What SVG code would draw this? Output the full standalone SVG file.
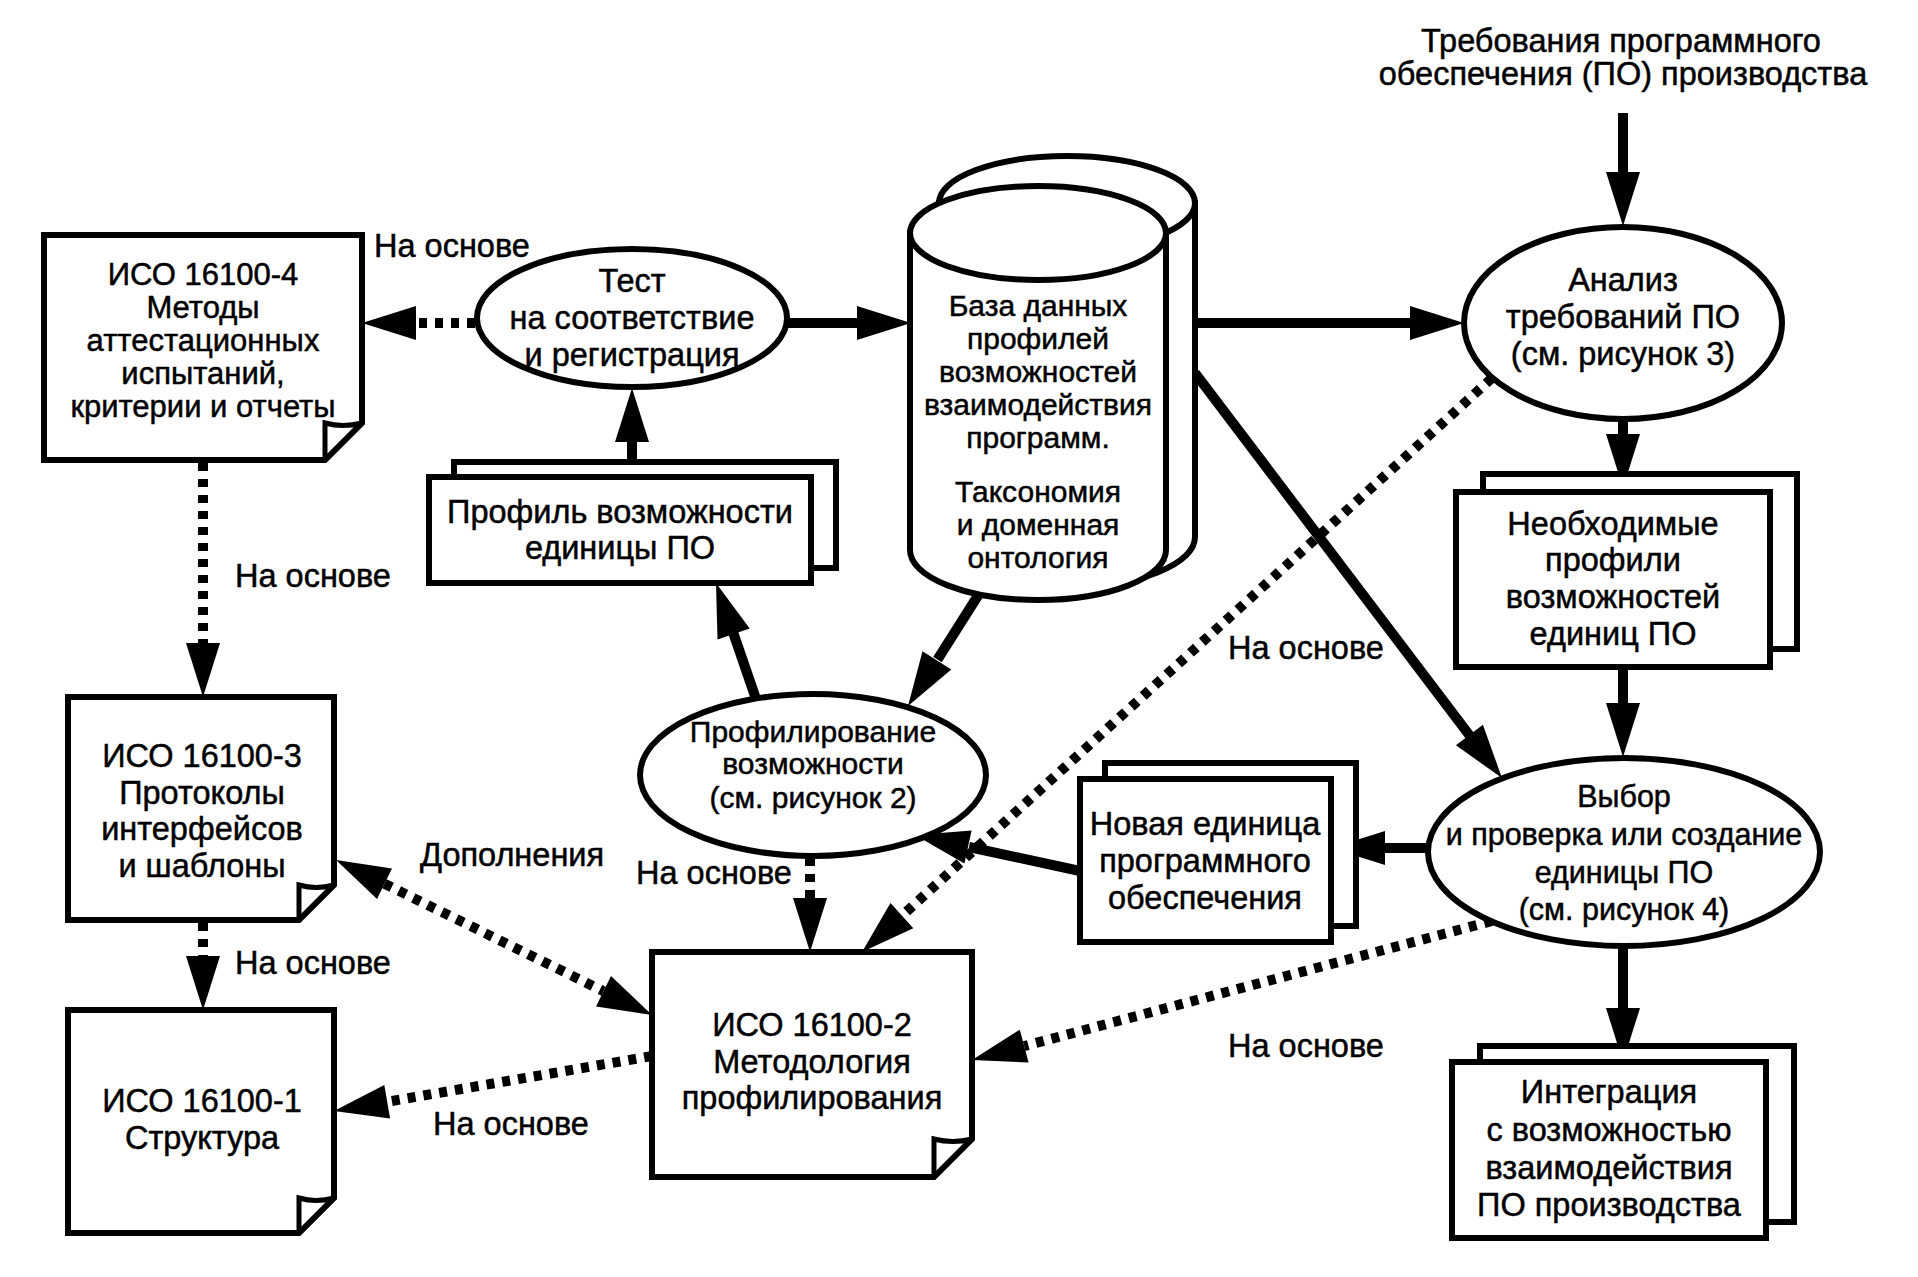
<svg xmlns="http://www.w3.org/2000/svg" width="1918" height="1277" viewBox="0 0 1918 1277">
<style>
text{font-family:"Liberation Sans",Arial,sans-serif;font-size:32.5px;fill:#000;stroke:#000;stroke-width:0.5;text-anchor:middle}
.lbl{text-anchor:start}
.n30{font-size:30px}
.n31{font-size:30.5px}
.iso4{font-size:31px}
.shape{fill:#fff;stroke:#000;stroke-width:6}
.fold{fill:none;stroke:#000;stroke-width:5}
.solid{fill:none;stroke:#000;stroke-width:10}
.dot{fill:none;stroke:#000;stroke-width:10;stroke-dasharray:8 8}
.head{fill:#000;stroke:none}
</style>
<rect width="1918" height="1277" fill="#fff"/>

<g id="connectors">
  <line class="dot" x1="475" y1="323" x2="416" y2="323"/>
  <polygon class="head" points="362,323 416,306 416,340"/>
  <line class="solid" x1="788" y1="323" x2="858" y2="323"/>
  <polygon class="head" points="911,323 857,306 857,340"/>
  <line class="solid" x1="1195" y1="323" x2="1411" y2="323"/>
  <polygon class="head" points="1464,323 1410,306 1410,340"/>
  <line class="solid" x1="1623" y1="113" x2="1623" y2="173"/>
  <polygon class="head" points="1623,226 1606,172 1640,172"/>
  <line class="solid" x1="1623" y1="418" x2="1623" y2="435"/>
  <polygon class="head" points="1623,488 1606,434 1640,434"/>
  <line class="solid" x1="1623" y1="667" x2="1623" y2="704"/>
  <polygon class="head" points="1623,757 1606,703 1640,703"/>
  <line class="solid" x1="1623" y1="944" x2="1623" y2="1009"/>
  <polygon class="head" points="1623,1062 1606,1008 1640,1008"/>
  <line class="solid" x1="1429" y1="848" x2="1384" y2="848"/>
  <polygon class="head" points="1331,848 1385,831 1385,865"/>
  <line class="solid" x1="1080" y1="871" x2="969" y2="847"/>
  <polygon class="head" points="915,835 971.6,830.4 964.4,863.6"/>
  <line class="solid" x1="979" y1="594" x2="937.5" y2="659.5"/>
  <polygon class="head" points="908,706 951.3,669.5 922.5,651.3"/>
  <line class="solid" x1="756" y1="699" x2="733.3" y2="633"/>
  <polygon class="head" points="716,583 749.7,628.5 717.5,639.5"/>
  <line class="solid" x1="632" y1="477" x2="632" y2="441"/>
  <polygon class="head" points="632,388 615,442 649,442"/>
  <line class="solid" x1="1195" y1="373" x2="1470" y2="736"/>
  <polygon class="head" points="1502,778 1482.9,724.7 1455.9,745.3"/>
  <line class="dot" x1="1492" y1="378" x2="902" y2="915.7"/>
  <polygon class="head" points="862,952 913.3,928.3 890.5,903.1"/>
  <line class="dot" x1="1492" y1="921" x2="1024.2" y2="1046.1"/>
  <polygon class="head" points="972,1060 1028.6,1062.5 1019.8,1029.7"/>
  <line class="dot" x1="652" y1="1056" x2="387.2" y2="1101.8"/>
  <polygon class="head" points="334,1111 390.1,1118.5 384.3,1085.1"/>
  <line class="dot" x1="384.5" y1="883.8" x2="603.5" y2="991.2"/>
  <polygon class="head" points="652,1015 596,1006.5 611,975.9"/>
  <polygon class="head" points="336,860 392,868.5 377,899.1"/>
  <line class="dot" x1="203" y1="463" x2="203" y2="643"/>
  <polygon class="head" points="203,697 186,643 220,643"/>
  <line class="dot" x1="203" y1="923" x2="203" y2="956"/>
  <polygon class="head" points="203,1010 186,956 220,956"/>
  <line class="dot" x1="810" y1="858" x2="810" y2="898"/>
  <polygon class="head" points="810,952 793,898 827,898"/>

  <text class="lbl" x="374" y="257">На основе</text>
  <text class="lbl" x="235" y="587">На основе</text>
  <text class="lbl" x="235" y="974">На основе</text>
  <text class="lbl" x="420" y="866">Дополнения</text>
  <text class="lbl" x="433" y="1135">На основе</text>
  <text class="lbl" x="636" y="884">На основе</text>
  <text class="lbl" x="1228" y="659">На основе</text>
  <text class="lbl" x="1228" y="1057">На основе</text>
</g>

<g id="requirements">
  <text x="1621" y="52">Требования программного</text>
  <text x="1623" y="85">обеспечения (ПО) производства</text>
</g>

<g id="iso4">
  <path class="shape" d="M44,235 H362 V423 L325,460 H44 Z"/>
  <path class="fold" d="M325,460 V423 Q343,428 362,423"/>
  <text class="iso4" x="203" y="285">ИСО 16100-4</text>
  <text class="iso4" x="203" y="318">Методы</text>
  <text class="iso4" x="203" y="351">аттестационных</text>
  <text class="iso4" x="203" y="384">испытаний,</text>
  <text class="iso4" x="203" y="417">критерии и отчеты</text>
</g>

<g id="test">
  <ellipse class="shape" cx="632" cy="318" rx="155" ry="69"/>
  <text x="632" y="292">Тест</text>
  <text x="632" y="329">на соответствие</text>
  <text x="632" y="366">и регистрация</text>
</g>

<g id="database">
  <path class="shape" d="M939,203 V537 A128,50 0 0 0 1195,537 V203 Z"/>
  <ellipse class="shape" cx="1067" cy="203" rx="128" ry="47"/>
  <path class="shape" d="M910,233 V550 A128,50 0 0 0 1166,550 V233 Z"/>
  <ellipse class="shape" cx="1038" cy="233" rx="128" ry="47"/>
  <text class="n30" x="1038" y="316">База данных</text>
  <text class="n30" x="1038" y="349">профилей</text>
  <text class="n30" x="1038" y="382">возможностей</text>
  <text class="n30" x="1038" y="415">взаимодействия</text>
  <text class="n30" x="1038" y="448">программ.</text>
  <text class="n30" x="1038" y="502">Таксономия</text>
  <text class="n30" x="1038" y="535">и доменная</text>
  <text class="n30" x="1038" y="568">онтология</text>
</g>

<g id="analysis">
  <ellipse class="shape" cx="1623" cy="323" rx="159" ry="96"/>
  <text x="1623" y="291">Анализ</text>
  <text x="1623" y="328">требований ПО</text>
  <text x="1623" y="365">(см. рисунок 3)</text>
</g>

<g id="profile">
  <rect class="shape" x="454" y="462" width="382" height="106"/>
  <rect class="shape" x="429" y="477" width="382" height="106"/>
  <text x="620" y="523">Профиль возможности</text>
  <text x="620" y="559">единицы ПО</text>
</g>

<g id="needed">
  <rect class="shape" x="1483" y="474" width="314" height="175"/>
  <rect class="shape" x="1456" y="492" width="314" height="175"/>
  <text x="1613" y="535">Необходимые</text>
  <text x="1613" y="571">профили</text>
  <text x="1613" y="608">возможностей</text>
  <text x="1613" y="645">единиц ПО</text>
</g>

<g id="profiling">
  <ellipse class="shape" cx="813" cy="775" rx="173" ry="81"/>
  <text class="n30" x="813" y="742">Профилирование</text>
  <text class="n30" x="813" y="774">возможности</text>
  <text class="n30" x="813" y="808">(см. рисунок 2)</text>
</g>

<g id="newunit">
  <rect class="shape" x="1105" y="763" width="251" height="163"/>
  <rect class="shape" x="1080" y="779" width="251" height="163"/>
  <text x="1205" y="835">Новая единица</text>
  <text x="1205" y="872">программного</text>
  <text x="1205" y="909">обеспечения</text>
</g>

<g id="choice">
  <ellipse class="shape" cx="1624" cy="852" rx="196" ry="94"/>
  <text class="n31" x="1624" y="807">Выбор</text>
  <text class="n31" x="1624" y="845">и проверка или создание</text>
  <text class="n31" x="1624" y="883">единицы ПО</text>
  <text class="n31" x="1624" y="920">(см. рисунок 4)</text>
</g>

<g id="integration">
  <rect class="shape" x="1480" y="1046" width="314" height="176"/>
  <rect class="shape" x="1452" y="1062" width="314" height="176"/>
  <text x="1609" y="1103">Интеграция</text>
  <text x="1609" y="1141">с возможностью</text>
  <text x="1609" y="1179">взаимодействия</text>
  <text x="1609" y="1216">ПО производства</text>
</g>

<g id="iso3">
  <path class="shape" d="M68,697 H334 V885 L299,920 H68 Z"/>
  <path class="fold" d="M299,920 V885 Q316,890 334,885"/>
  <text x="202" y="767">ИСО 16100-3</text>
  <text x="202" y="804">Протоколы</text>
  <text x="202" y="840">интерфейсов</text>
  <text x="202" y="877">и шаблоны</text>
</g>

<g id="iso1">
  <path class="shape" d="M68,1010 H334 V1198 L299,1233 H68 Z"/>
  <path class="fold" d="M299,1233 V1198 Q316,1203 334,1198"/>
  <text x="202" y="1112">ИСО 16100-1</text>
  <text x="202" y="1149">Структура</text>
</g>

<g id="iso2">
  <path class="shape" d="M652,952 H972 V1139 L934,1177 H652 Z"/>
  <path class="fold" d="M934,1177 V1139 Q953,1144 972,1139"/>
  <text x="812" y="1036">ИСО 16100-2</text>
  <text x="812" y="1073">Методология</text>
  <text x="812" y="1109">профилирования</text>
</g>
</svg>
